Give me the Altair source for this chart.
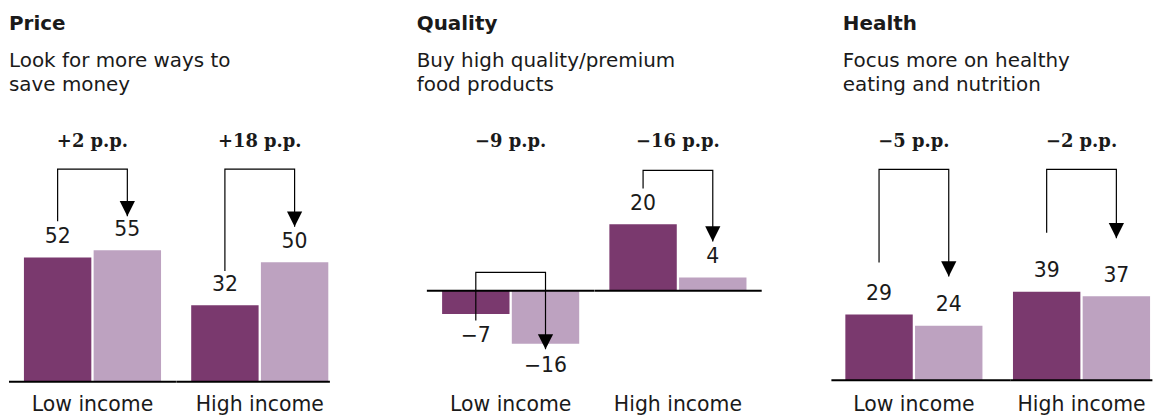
import altair as alt
import pandas as pd

# ---------------- data ----------------
panels = ["Price", "Quality", "Health"]
subtitle_line1 = ["Look for more ways to", "Buy high quality/premium", "Focus more on healthy"]
subtitle_line2 = ["save money", "food products", "eating and nutrition"]
groups = ["Low income", "High income"]
periods = ["Before", "After"]

# values per panel: [low-before, low-after, high-before, high-after]
price_values = [52, 55, 32, 50]
quality_values = [-7, -16, 20, 4]
health_values = [29, 24, 39, 37]
all_values = [price_values, quality_values, health_values]

change_labels = [
    ["+2 p.p.", "+18 p.p."],
    ["\u22129 p.p.", "\u221216 p.p."],
    ["\u22125 p.p.", "\u22122 p.p."],
]

# bracket levels (data units): start, top, end (arrow tip)
bracket_start = [[67.2, 46.4], [-9.0, 30.8], [51.9, 65.0]]
bracket_top = [[89.0, 89.0], [5.5, 36.3], [92.9, 92.9]]
bracket_end = [[69.3, 64.9], [-17.7, 14.8], [45.7, 62.6]]

# ---------------- styling / layout ----------------
DARK = "#7A396E"
LIGHT = "#BDA2C0"
INK = "#1a1a1a"
SANS = "DejaVu Sans"
SERIF = "DejaVu Serif"
H = 408
SPAN = 137.7          # width covered by the two bars of a group
PI = 0.033            # gap between the two bars (fraction of step)
STEP = SPAN / (2 - PI)
# per sub-chart (panel, group): side margin around the bars
margins = [[15.0, 15.0], [15.0, 15.0], [15.0, 2.35]]
gaps = [83.9, 68.3, 12.4]    # spacers: after Price, after Quality, inside Health
base_ext = [[[0, None], [0, 154.3]], [[-0.3, None], [0, 168]], [[1.0, "gap"], [0, None]]]
title_x = [0.0, -10.5, 12.5]
y_domains = [[-15.21, 154.79], [-38.43, 84.07], [-16.67, 162.28]]
text_y = {"title": 18.3, "sub1": 55.7, "sub2": 79.0, "change": 135.7, "cat": 400.7}

ARROW = "M-1,-2L1,-2L0,0Z"


def fmt(v):
    return ("\u2212" + str(abs(v))) if v < 0 else str(v)


def make_group(i, g):
    m = margins[i][g]
    W = SPAN + 2 * m
    vals = all_values[i][2 * g: 2 * g + 2]
    bars = pd.DataFrame({
        "period": periods,
        "value": vals,
        "label": [fmt(v) for v in vals],
    })
    brackets = pd.DataFrame({
        "period": [periods[0], periods[0], periods[1], periods[1]],
        "value": [bracket_start[i][g], bracket_top[i][g], bracket_top[i][g], bracket_end[i][g]],
        "seq": [0, 1, 2, 3],
    })
    tips = brackets[brackets["seq"] == 3].reset_index(drop=True)
    one = pd.DataFrame({"group": [groups[g]], "change": [change_labels[i][g]]})

    xs = alt.X("period:N", sort=periods, axis=None,
               scale=alt.Scale(domain=periods, paddingInner=PI, paddingOuter=m / STEP))
    ys = alt.Y("value:Q", axis=None,
               scale=alt.Scale(domain=y_domains[i], nice=False, zero=False))
    center = W / 2

    x0, x1 = base_ext[i][g]
    if x1 is None:
        x1 = W
    elif x1 == "gap":
        x1 = W + gaps[2] + 1

    bar = alt.Chart(bars).mark_bar().encode(
        x=xs, y=ys,
        color=alt.Color("period:N", scale=alt.Scale(domain=periods, range=[DARK, LIGHT]), legend=None),
    )
    pos_lab = alt.Chart(bars).transform_filter("datum.value >= 0").mark_text(
        font=SANS, fontSize=20.5, color=INK, baseline="alphabetic", dy=-14.5
    ).encode(x=xs, y=ys, text="label:N")
    neg_lab = alt.Chart(bars).transform_filter("datum.value < 0").mark_text(
        font=SANS, fontSize=20.5, color=INK, baseline="alphabetic", dy=28.5
    ).encode(x=xs, y=ys, text="label:N")
    base = alt.Chart(bars).transform_filter("datum.period == 'Before'").mark_rule(
        color="black", strokeWidth=2
    ).encode(
        x=alt.value(x0), x2=alt.value(x1),
        y=alt.Y(datum=0, axis=None),
    )
    line = alt.Chart(brackets).mark_line(color="black", strokeWidth=1.2).encode(
        x=xs, y=ys, order="seq:Q"
    )
    tip = alt.Chart(tips).mark_point(
        shape=ARROW, size=234, filled=True, color="black", opacity=1
    ).encode(x=xs, y=ys)
    chg = alt.Chart(one).mark_text(
        font=SERIF, fontWeight="bold", fontSize=18, color=INK, baseline="alphabetic"
    ).encode(x=alt.value(center), y=alt.value(text_y["change"]), text="change:N")
    cat = alt.Chart(one).mark_text(
        font=SANS, fontSize=20.5, color=INK, baseline="alphabetic"
    ).encode(x=alt.value(center), y=alt.value(text_y["cat"]), text="group:N")

    layers = [bar, base, line, tip, pos_lab, neg_lab, chg, cat]
    if g == 0:
        for txt, yy, wt in [(panels[i], text_y["title"], "bold"),
                            (subtitle_line1[i], text_y["sub1"], "normal"),
                            (subtitle_line2[i], text_y["sub2"], "normal")]:
            layers.append(alt.Chart(one).mark_text(
                text=txt, font=SANS, fontWeight=wt, fontSize=20, color=INK,
                align="left", baseline="alphabetic"
            ).encode(x=alt.value(title_x[i]), y=alt.value(yy)))
    return alt.layer(*layers).properties(width=W, height=H)


def spacer(w):
    return alt.Chart(pd.DataFrame({"k": [0]})).mark_point(opacity=0).encode(
        x=alt.value(0), y=alt.value(0)
    ).properties(width=w, height=H)


cells = [
    make_group(0, 0), make_group(0, 1), spacer(gaps[0]),
    make_group(1, 0), make_group(1, 1), spacer(gaps[1]),
    make_group(2, 0), spacer(gaps[2]), make_group(2, 1),
]
chart = alt.hconcat(*cells, spacing=0, bounds="flush").properties(
    padding=0
).configure_view(stroke=None)

chart.save("out.html", embed_options={"renderer": "svg", "actions": False})
